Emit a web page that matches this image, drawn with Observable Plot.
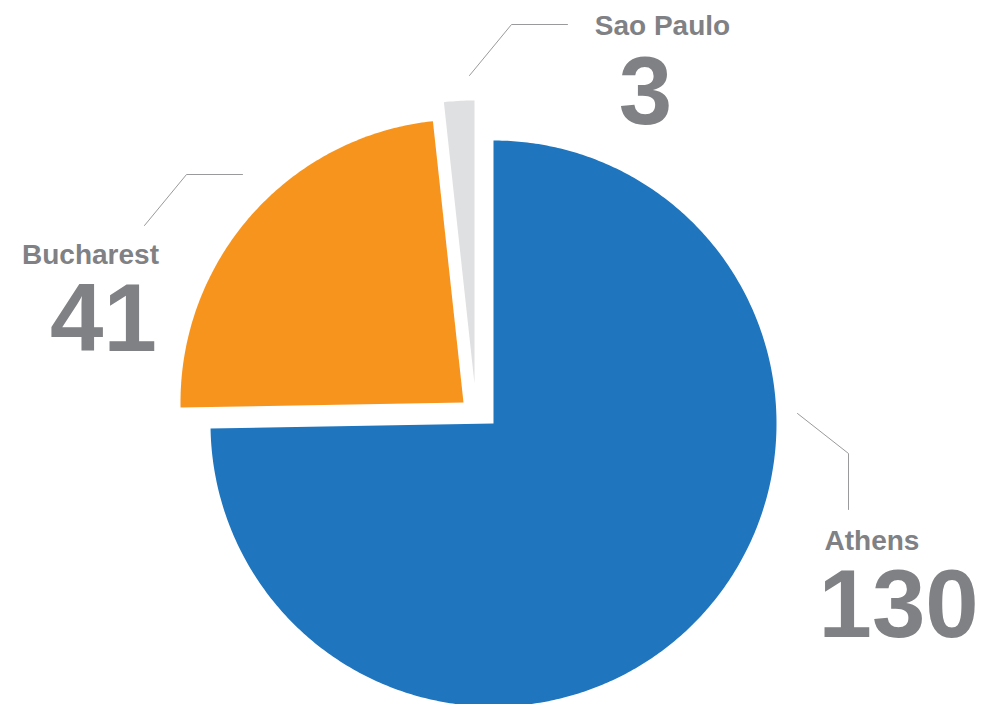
<!DOCTYPE html>
<html>
<head>
<meta charset="utf-8">
<script src="https://cdn.jsdelivr.net/npm/d3@7"></script>
<script src="https://cdn.jsdelivr.net/npm/@observablehq/plot@0.6"></script>
<style>
  html, body { margin: 0; padding: 0; background: #ffffff; }
  #chart { width: 986px; height: 704px; }
</style>
</head>
<body>
<div id="chart"></div>
<script>
// ---- data ----
const cities = ["Athens", "Bucharest", "Sao Paulo"];
const counts = [130, 41, 3];
const sliceColors = ["#1f75be", "#f7941e", "#dfe0e2"];

// ---- layout (pixels) ----
const W = 986, H = 704;
const center = [493, 423];
const radius = 283;
const explode = [[0, 0], [-30, -21], [-19, -40]];   // per-slice offset
const labelColor = "#808184";
const font = "'Liberation Sans', Arial, Helvetica, sans-serif";

// label layout (annotation placement)
const nameLabels = [
  {text: cities[0], x: 824, y: 541, anchor: "start"},
  {text: cities[1], x: 90, y: 255, anchor: "middle"},
  {text: cities[2], x: 662, y: 26, anchor: "middle"}
];
const valueLabels = [
  {text: String(counts[0]), x: 818, y: 606, anchor: "start"},
  {text: String(counts[1]), x: 103, y: 320, anchor: "middle"},
  {text: String(counts[2]), x: 645, y: 93, anchor: "middle"}
];
const leaders = [
  {city: cities[0], pts: [[797, 413], [848, 453], [848, 509]]},
  {city: cities[1], pts: [[144, 225], [186, 174], [242, 174]]},
  {city: cities[2], pts: [[469, 75], [511, 24], [567, 24]]}
];

// ---- build slice polygons from the pie layout ----
const pie = d3.pie().sort(null).startAngle(0).endAngle(2 * Math.PI);
const arcs = pie(counts);
const slicePts = [];
arcs.forEach((a, i) => {
  const ox = center[0] + explode[i][0], oy = center[1] + explode[i][1];
  const steps = Math.max(8, Math.ceil((a.endAngle - a.startAngle) / 0.01));
  slicePts.push({city: cities[i], x: ox, y: oy});
  for (let k = 0; k <= steps; k++) {
    const t = a.startAngle + (a.endAngle - a.startAngle) * k / steps;
    slicePts.push({city: cities[i], x: ox + radius * Math.sin(t), y: oy - radius * Math.cos(t)});
  }
  slicePts.push({city: cities[i], x: ox, y: oy});
});

const leaderPts = leaders.flatMap(l => l.pts.map(p => ({city: l.city, x: p[0], y: p[1]})));

const chart = Plot.plot({
  width: W,
  height: H,
  margin: 0,
  style: {background: "#ffffff", fontFamily: font},
  x: {domain: [0, W], range: [0, W], axis: null},
  y: {domain: [0, H], range: [0, H], axis: null},
  color: {domain: cities, range: sliceColors},
  marks: [
    Plot.line(slicePts, {x: "x", y: "y", z: "city", fill: "city", stroke: "none", curve: "linear-closed"}),
    Plot.line(leaderPts, {x: "x", y: "y", z: "city", stroke: "#9a9a9c", strokeWidth: 1}),
    ...nameLabels.map(l => Plot.text([l], {
      x: "x", y: "y", text: "text", textAnchor: l.anchor, lineAnchor: "middle",
      fontSize: 28, fontWeight: "bold", fill: labelColor, fontFamily: font
    })),
    ...valueLabels.map(l => Plot.text([l], {
      x: "x", y: "y", text: "text", textAnchor: l.anchor, lineAnchor: "middle",
      fontSize: 96, fontWeight: "bold", fill: labelColor, fontFamily: font
    }))
  ]
});
document.getElementById("chart").appendChild(chart);
</script>
</body>
</html>
